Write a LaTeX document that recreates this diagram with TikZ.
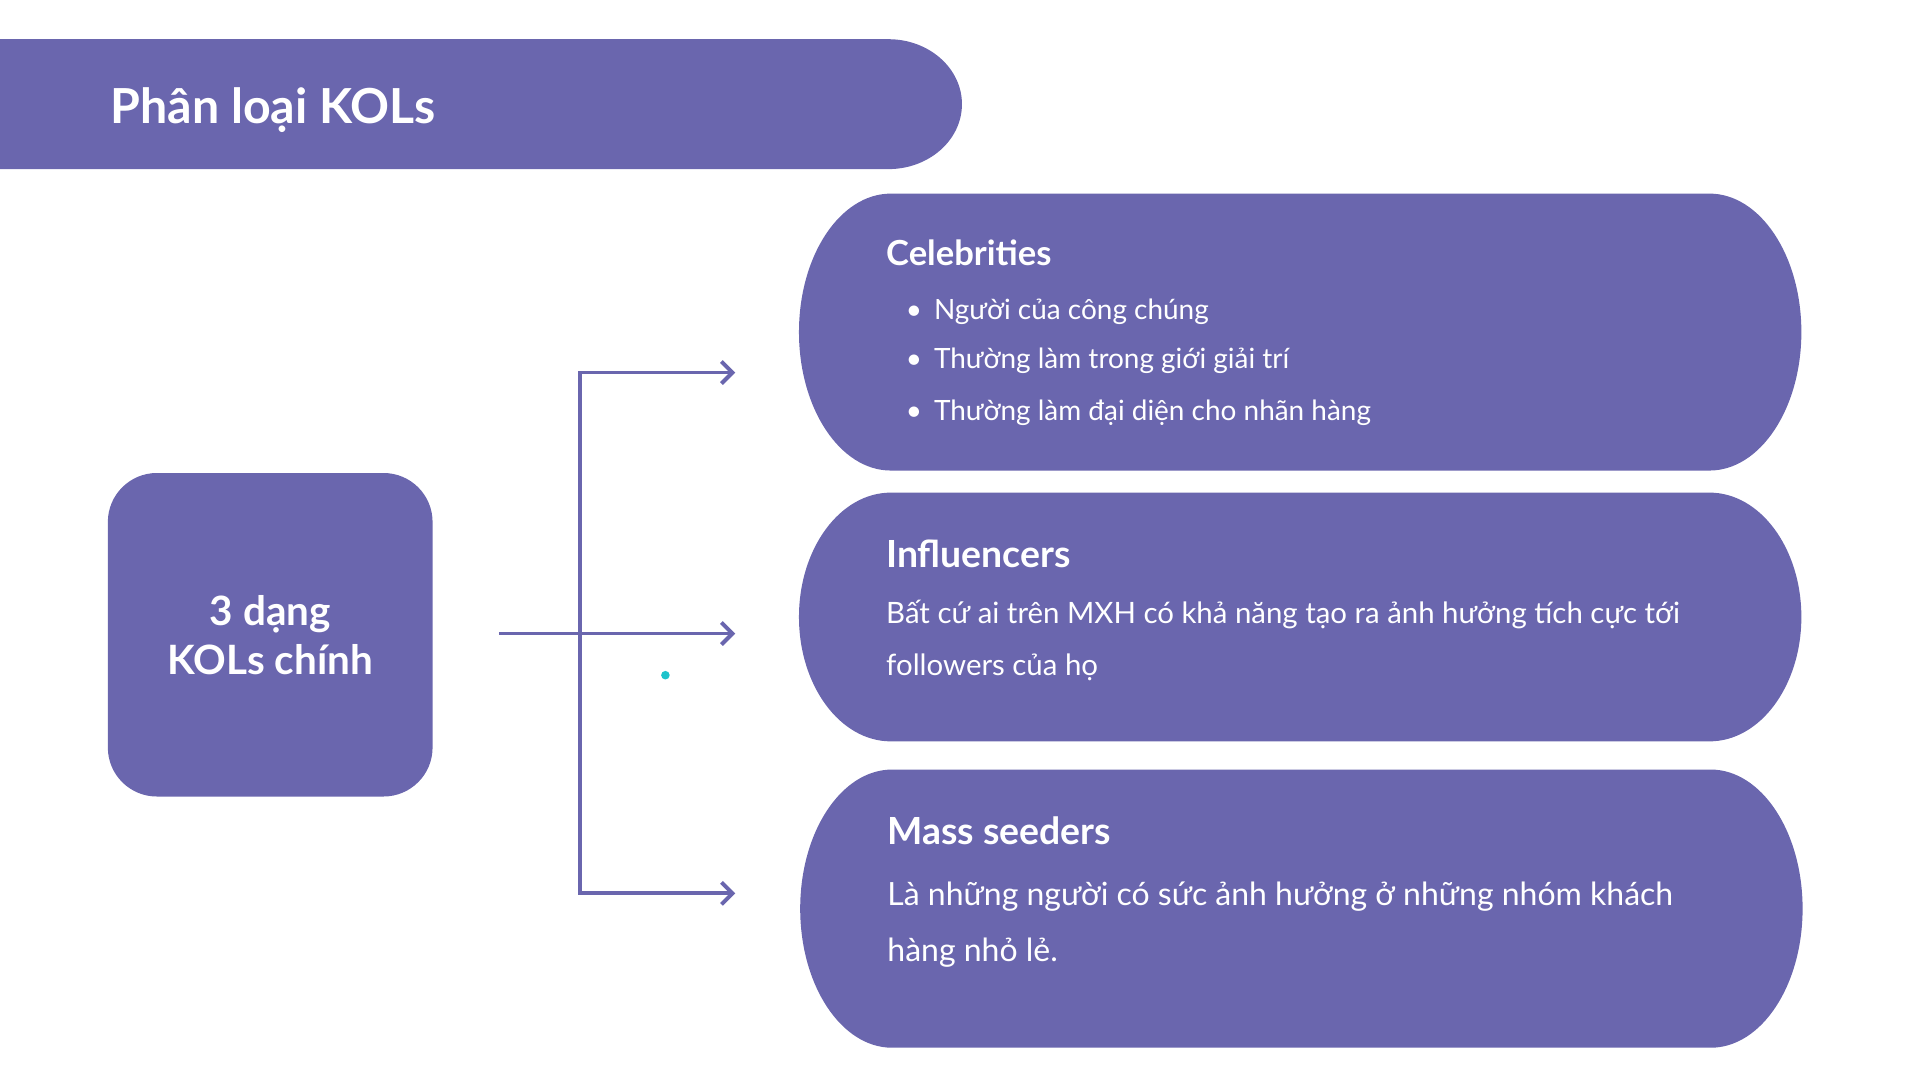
\documentclass[tikz,border=0pt]{standalone}
\usepackage{fontspec}
\setmainfont{Lato}
\usetikzlibrary{arrows.meta}

\definecolor{kolpurple}{HTML}{6A66AE}
\definecolor{kolcyan}{HTML}{1DC3CB}

\tikzset{
  kolfill/.style={fill=kolpurple},
  heading/.style={anchor=base west, text=white, inner sep=0pt,
    font=\bfseries\fontsize{30.5}{36}\selectfont},
  bodytext/.style={anchor=base west, text=white, inner sep=0pt,
    font=\fontsize{24}{29}\selectfont},
  branch/.style={draw=kolpurple, line width=3.2pt,
    {Straight Barb[length=9pt,width=18pt]}-{Straight Barb[length=9pt,width=18pt]}}
}

% box with elliptic ends: x1, y1, x2, y2, rx
\newcommand{\kolbox}[5]{%
  \fill[kolfill] (#1+#5,#4) -- (#3-#5,#4)
    arc[start angle=90, end angle=-90, x radius=#5, y radius={(#4-#2)/2}]
    -- (#1+#5,#2)
    arc[start angle=270, end angle=90, x radius=#5, y radius={(#4-#2)/2}]
    -- cycle;}

\begin{document}
\begin{tikzpicture}[x=1pt, y=1pt]
  \useasboundingbox (0,-8.5) rectangle (1566,872);

  % title banner
  \fill[kolfill] (-10,840) -- (725,840)
    arc[start angle=90, end angle=-90, x radius=60, y radius=53] -- (-10,734) -- cycle;
  \node[heading, font=\bfseries\fontsize{39.4}{48}\selectfont] (title) at (90,771) {Phân loại KOLs};

  % main box
  \node[kolfill, rounded corners=40pt, minimum width=265pt, minimum height=264pt,
    align=center, text=white, font=\bfseries\fontsize{33}{40}\selectfont] (main) at (220.5,354) {3 dạng\\KOLs chính};

  % connectors
  \coordinate (stem) at (407,355);
  \coordinate (fork) at (473,355);
  \coordinate (tipA) at (600,568);
  \coordinate (tipB) at (600,355);
  \coordinate (tipC) at (600,143);
  \draw[branch] (tipA) -| (fork) |- (tipC);
  \draw[branch, {-Straight Barb[length=9pt,width=18pt]}] (stem) -- (tipB);
  \node[circle, fill=kolcyan, inner sep=0pt, minimum size=7pt] (dot) at (543,321) {};

  % the three kinds
  \kolbox{652}{488}{1470}{714}{75}
  \kolbox{652}{267}{1470}{470}{75}
  \kolbox{653}{17}{1471}{244}{75}

  \node[heading, font=\bfseries\fontsize{28.2}{34}\selectfont] (celeb) at (723,655) {Celebrities};
  \node[bodytext, font=\fontsize{22.8}{28}\selectfont] (celebA) at (762,611) {Người của công chúng};
  \node[bodytext, font=\fontsize{22.8}{28}\selectfont] (celebB) at (762,571) {Thường làm trong giới giải trí};
  \node[bodytext, font=\fontsize{22.8}{28}\selectfont] (celebC) at (762,529) {Thường làm đại diện cho nhãn hàng};
  \foreach \ypos in {611,571,529}
    \node[bodytext, font=\fontsize{22.8}{28}\selectfont] at (739,\ypos) {•};

  \node[heading] (influ) at (723,409) {Influencers};
  \node[bodytext] (influA) at (723,363) {Bất cứ ai trên MXH có khả năng tạo ra ảnh hưởng tích cực tới};
  \node[bodytext] (influB) at (723,321) {followers của họ};

  \node[heading] (mass) at (724,183) {Mass seeders};
  \node[bodytext, font=\fontsize{26.1}{32}\selectfont] (massA) at (724,133) {Là những người có sức ảnh hưởng ở những nhóm khách};
  \node[bodytext, font=\fontsize{26.1}{32}\selectfont] (massB) at (724,87) {hàng nhỏ lẻ.};
\end{tikzpicture}
\end{document}
